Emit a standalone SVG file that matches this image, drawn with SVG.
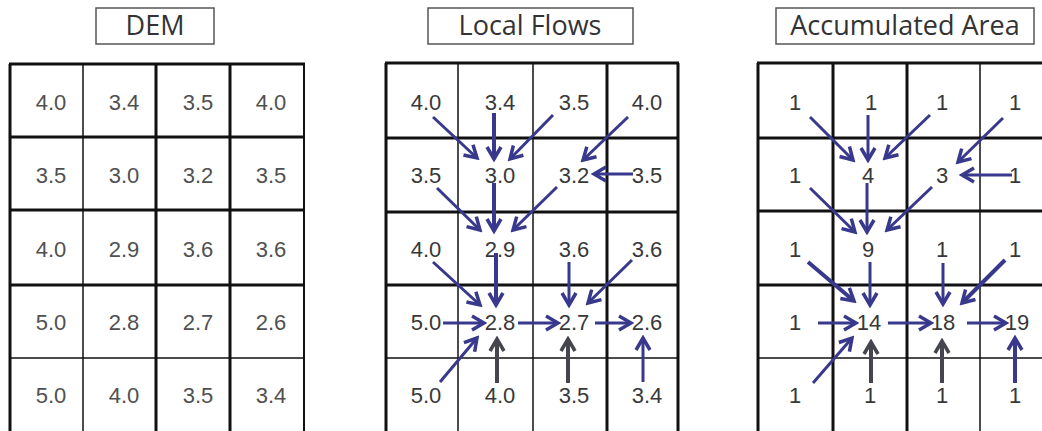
<svg xmlns="http://www.w3.org/2000/svg" width="1042" height="431" viewBox="0 0 1042 431">
<style>
.bg{fill:#ffffff}
.title{fill:#ffffff;stroke:#555;stroke-width:1.5}
.tt{font-family:"Open Sans",sans-serif;font-size:27px;fill:#333;text-anchor:middle}
.thk{stroke:#111;stroke-width:3;fill:none}
.thn{stroke:#111;stroke-width:1.5;fill:none}
.num{font-family:"Liberation Sans",Arial,sans-serif;font-size:22px;text-anchor:middle}
.dem{fill:#505050}
.lf{fill:#383838}
.blue{stroke:#38388c;stroke-width:3;fill:none;marker-end:url(#hb)}
.blueT{stroke:#38388c;stroke-width:4;fill:none;marker-end:url(#hb)}
.grey{stroke:#45454f;stroke-width:4;fill:none;marker-end:url(#hg)}
</style>
<defs>
<marker id="hb" markerUnits="userSpaceOnUse" markerWidth="18" markerHeight="18" viewBox="0 0 18 18" refX="15" refY="9" orient="auto">
<path d="M3,2 L15,9 L3,16" fill="none" stroke="#38388c" stroke-width="3.5"/>
</marker>
<marker id="hg" markerUnits="userSpaceOnUse" markerWidth="18" markerHeight="18" viewBox="0 0 18 18" refX="15" refY="9" orient="auto">
<path d="M3,2 L15,9 L3,16" fill="none" stroke="#45454f" stroke-width="3.5"/>
</marker>
</defs>
<rect class="bg" x="0" y="0" width="1042" height="431"/>

<!-- Titles -->
<g id="title-dem"><rect class="title" x="96" y="8" width="118" height="36"/><text class="tt" x="155" y="35">DEM</text></g>
<g id="title-local"><rect class="title" x="428" y="8" width="205" height="36"/><text class="tt" x="530" y="35">Local Flows</text></g>
<g id="title-acc"><rect class="title" x="776" y="8" width="258" height="36"/><text class="tt" x="905" y="35">Accumulated Area</text></g>

<!-- DEM grid -->
<g id="grid-dem">
<line class="thk" x1="10" y1="64" x2="10" y2="432"/>
<line class="thn" x1="83" y1="64" x2="83" y2="432"/>
<line class="thk" x1="156" y1="64" x2="156" y2="432"/>
<line class="thk" x1="230" y1="64" x2="230" y2="432"/>
<line class="thk" x1="304" y1="64" x2="304" y2="432" style="stroke-width:2"/>
<line class="thk" x1="9" y1="64" x2="305" y2="64"/>
<line class="thk" x1="9" y1="137" x2="305" y2="137"/>
<line class="thk" x1="9" y1="210" x2="305" y2="210"/>
<line class="thk" x1="9" y1="285" x2="305" y2="285"/>
<line class="thn" x1="9" y1="358" x2="305" y2="358"/>
</g>

<!-- Local Flows grid -->
<g id="grid-local">
<line class="thk" x1="386" y1="63" x2="386" y2="432"/>
<line class="thn" x1="458" y1="63" x2="458" y2="432"/>
<line class="thn" x1="533" y1="63" x2="533" y2="432"/>
<line class="thk" x1="607" y1="63" x2="607" y2="432"/>
<line class="thk" x1="678" y1="63" x2="678" y2="432"/>
<line class="thk" x1="385" y1="63" x2="679" y2="63"/>
<line class="thk" x1="385" y1="138" x2="679" y2="138"/>
<line class="thk" x1="385" y1="212" x2="679" y2="212"/>
<line class="thk" x1="385" y1="285" x2="679" y2="285"/>
<line class="thn" x1="385" y1="358" x2="679" y2="358"/>
</g>

<!-- Accumulated grid -->
<g id="grid-acc">
<line class="thk" x1="758" y1="63" x2="758" y2="432"/>
<line class="thk" x1="833" y1="63" x2="833" y2="432"/>
<line class="thk" x1="907" y1="63" x2="907" y2="432"/>
<line class="thn" x1="980" y1="63" x2="980" y2="432"/>
<line class="thk" x1="757" y1="63" x2="1042" y2="63"/>
<line class="thk" x1="757" y1="138" x2="1042" y2="138"/>
<line class="thk" x1="757" y1="211" x2="1042" y2="211"/>
<line class="thk" x1="757" y1="285" x2="1042" y2="285"/>
<line class="thn" x1="757" y1="358" x2="1042" y2="358"/>
</g>

<!-- DEM cells -->
<g class="num dem">
<g id="dem-r1c1"><text x="51" y="110">4.0</text></g>
<g id="dem-r1c2"><text x="124" y="110">3.4</text></g>
<g id="dem-r1c3"><text x="198" y="110">3.5</text></g>
<g id="dem-r1c4"><text x="271" y="110">4.0</text></g>
<g id="dem-r2c1"><text x="51" y="183">3.5</text></g>
<g id="dem-r2c2"><text x="124" y="183">3.0</text></g>
<g id="dem-r2c3"><text x="198" y="183">3.2</text></g>
<g id="dem-r2c4"><text x="271" y="183">3.5</text></g>
<g id="dem-r3c1"><text x="51" y="257">4.0</text></g>
<g id="dem-r3c2"><text x="124" y="257">2.9</text></g>
<g id="dem-r3c3"><text x="198" y="257">3.6</text></g>
<g id="dem-r3c4"><text x="271" y="257">3.6</text></g>
<g id="dem-r4c1"><text x="51" y="330">5.0</text></g>
<g id="dem-r4c2"><text x="124" y="330">2.8</text></g>
<g id="dem-r4c3"><text x="198" y="330">2.7</text></g>
<g id="dem-r4c4"><text x="271" y="330">2.6</text></g>
<g id="dem-r5c1"><text x="51" y="403">5.0</text></g>
<g id="dem-r5c2"><text x="124" y="403">4.0</text></g>
<g id="dem-r5c3"><text x="198" y="403">3.5</text></g>
<g id="dem-r5c4"><text x="271" y="403">3.4</text></g>
</g>

<!-- Local Flows cells -->
<g class="num lf">
<g id="lf-r1c1"><text x="426" y="110">4.0</text></g>
<g id="lf-r1c2"><text x="500" y="110">3.4</text></g>
<g id="lf-r1c3"><text x="574" y="110">3.5</text></g>
<g id="lf-r1c4"><text x="647" y="110">4.0</text></g>
<g id="lf-r2c1"><text x="426" y="183">3.5</text></g>
<g id="lf-r2c2"><text x="500" y="183">3.0</text></g>
<g id="lf-r2c3"><text x="574" y="183">3.2</text></g>
<g id="lf-r2c4"><text x="647" y="183">3.5</text></g>
<g id="lf-r3c1"><text x="426" y="257">4.0</text></g>
<g id="lf-r3c2"><text x="500" y="257">2.9</text></g>
<g id="lf-r3c3"><text x="574" y="257">3.6</text></g>
<g id="lf-r3c4"><text x="647" y="257">3.6</text></g>
<g id="lf-r4c1"><text x="426" y="330">5.0</text></g>
<g id="lf-r4c2"><text x="500" y="330">2.8</text></g>
<g id="lf-r4c3"><text x="574" y="330">2.7</text></g>
<g id="lf-r4c4"><text x="647" y="330">2.6</text></g>
<g id="lf-r5c1"><text x="426" y="403">5.0</text></g>
<g id="lf-r5c2"><text x="500" y="403">4.0</text></g>
<g id="lf-r5c3"><text x="574" y="403">3.5</text></g>
<g id="lf-r5c4"><text x="647" y="403">3.4</text></g>
</g>

<!-- Accumulated cells -->
<g class="num lf">
<g id="acc-r1c1"><text x="795" y="110">1</text></g>
<g id="acc-r1c2"><text x="871" y="110">1</text></g>
<g id="acc-r1c3"><text x="942" y="110">1</text></g>
<g id="acc-r1c4"><text x="1015" y="110">1</text></g>
<g id="acc-r2c1"><text x="795" y="183">1</text></g>
<g id="acc-r2c2"><text x="868" y="183">4</text></g>
<g id="acc-r2c3"><text x="942" y="183">3</text></g>
<g id="acc-r2c4"><text x="1015" y="183">1</text></g>
<g id="acc-r3c1"><text x="795" y="257">1</text></g>
<g id="acc-r3c2"><text x="868" y="257">9</text></g>
<g id="acc-r3c3"><text x="942" y="257">1</text></g>
<g id="acc-r3c4"><text x="1015" y="257">1</text></g>
<g id="acc-r4c1"><text x="795" y="330">1</text></g>
<g id="acc-r4c2"><text x="869" y="330">14</text></g>
<g id="acc-r4c3"><text x="943" y="330">18</text></g>
<g id="acc-r4c4"><text x="1017" y="330">19</text></g>
<g id="acc-r5c1"><text x="795" y="403">1</text></g>
<g id="acc-r5c2"><text x="870" y="403">1</text></g>
<g id="acc-r5c3"><text x="942" y="403">1</text></g>
<g id="acc-r5c4"><text x="1015" y="403">1</text></g>
</g>

<!-- Connectors -->
<g id="connectors">
<!-- Local Flows -->
<line class="blue" x1="433" y1="117" x2="477" y2="158"/>
<line class="blueT" x1="494" y1="113" x2="494" y2="159"/>
<line class="blue" x1="553" y1="115" x2="510" y2="159"/>
<line class="blue" x1="628" y1="117" x2="583" y2="160"/>
<line class="blue" x1="633" y1="174" x2="594" y2="174"/>
<line class="blue" x1="437" y1="188" x2="480" y2="230"/>
<line class="blueT" x1="494" y1="183" x2="494" y2="231"/>
<line class="blue" x1="557" y1="187" x2="513" y2="230"/>
<line class="blue" x1="433" y1="262" x2="480" y2="305"/>
<line class="blueT" x1="496" y1="253" x2="496" y2="305"/>
<line class="blue" x1="569" y1="262" x2="569" y2="305"/>
<line class="blue" x1="632" y1="260" x2="588" y2="303"/>
<line class="blue" x1="443" y1="323" x2="484" y2="323"/>
<line class="blue" x1="518" y1="323" x2="558" y2="323"/>
<line class="blue" x1="595" y1="323" x2="631" y2="323"/>
<line class="blue" x1="440" y1="382" x2="477" y2="338"/>
<line class="grey" x1="497" y1="383" x2="497" y2="339"/>
<line class="grey" x1="568" y1="383" x2="568" y2="339"/>
<line class="blue" x1="643" y1="382" x2="643" y2="338"/>
<!-- Accumulated -->
<line class="blue" x1="810" y1="117" x2="853" y2="160"/>
<line class="blue" x1="868" y1="115" x2="868" y2="160"/>
<line class="blue" x1="930" y1="115" x2="885" y2="158"/>
<line class="blue" x1="1003" y1="118" x2="958" y2="162"/>
<line class="blue" x1="1012" y1="175" x2="962" y2="175"/>
<line class="blue" x1="810" y1="188" x2="855" y2="232"/>
<line class="blue" x1="867" y1="183" x2="867" y2="232"/>
<line class="blue" x1="932" y1="187" x2="887" y2="230"/>
<line class="blueT" x1="808" y1="262" x2="854" y2="301"/>
<line class="blue" x1="870" y1="262" x2="870" y2="305"/>
<line class="blue" x1="943" y1="263" x2="943" y2="304"/>
<line class="blueT" x1="1005" y1="260" x2="962" y2="303"/>
<line class="blue" x1="818" y1="323" x2="856" y2="323"/>
<line class="blue" x1="888" y1="323" x2="931" y2="323"/>
<line class="blue" x1="967" y1="323" x2="1006" y2="323"/>
<line class="blue" x1="813" y1="383" x2="852" y2="338"/>
<line class="grey" x1="871" y1="383" x2="871" y2="342"/>
<line class="grey" x1="942" y1="383" x2="942" y2="341"/>
<line class="blueT" x1="1015" y1="383" x2="1015" y2="338"/>
</g>
</svg>
